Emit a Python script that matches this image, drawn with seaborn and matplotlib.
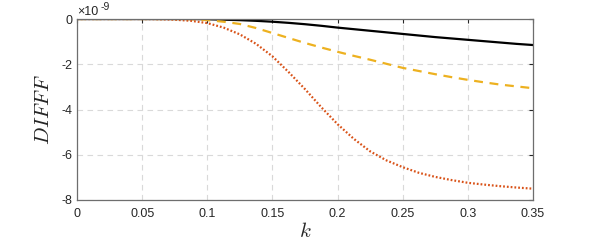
import matplotlib
matplotlib.use("Agg")
import matplotlib.pyplot as plt
import seaborn as sns
import pandas as pd

# k grid and DIFFF values (in units of 1e-9)
k = [0, 0.0125, 0.025, 0.0375, 0.05, 0.0625, 0.075, 0.0875, 0.1, 0.1125,
     0.125, 0.1375, 0.15, 0.1625, 0.175, 0.1875, 0.2, 0.2125, 0.225, 0.2375,
     0.25, 0.2625, 0.275, 0.2875, 0.3, 0.3125, 0.325, 0.3375, 0.35]

diff_black = [0, 0, 0, 0, 0, 0, 0, 0, -0.01, -0.03,
              -0.05, -0.08, -0.12, -0.17, -0.23, -0.3, -0.38, -0.45, -0.52, -0.59,
              -0.66, -0.73, -0.8, -0.86, -0.92, -0.98, -1.04, -1.1, -1.15]

diff_orange = [0, 0, 0, 0, 0, 0, 0, -0.01, -0.05, -0.12,
               -0.22, -0.4, -0.62, -0.84, -1.06, -1.26, -1.45, -1.63, -1.8, -1.98,
               -2.16, -2.3, -2.44, -2.57, -2.69, -2.8, -2.9, -2.98, -3.06]

diff_red = [0, 0, 0, 0, 0, -0.01, -0.03, -0.08, -0.18, -0.38,
            -0.68, -1.1, -1.65, -2.35, -3.1, -3.9, -4.65, -5.3, -5.85, -6.25,
            -6.55, -6.8, -6.98, -7.12, -7.24, -7.32, -7.39, -7.45, -7.5]

x_ticks = [0, 0.05, 0.1, 0.15, 0.2, 0.25, 0.3, 0.35]
x_tick_labels = ["0", "0.05", "0.1", "0.15", "0.2", "0.25", "0.3", "0.35"]
y_ticks = [0, -2, -4, -6, -8]
y_tick_labels = ["0", "-2", "-4", "-6", "-8"]

sns.set_style("white")
plt.rcParams["font.family"] = ["Liberation Sans", "DejaVu Sans"]
plt.rcParams["mathtext.fontset"] = "cm"
plt.rcParams["axes.unicode_minus"] = False

df = pd.DataFrame({"k": k, "black": diff_black, "orange": diff_orange, "red": diff_red})

fig = plt.figure(figsize=(5.89, 2.45), dpi=100)
ax = fig.add_axes([0.1307, 0.1837, 0.7743, 0.7387])

sns.lineplot(data=df, x="k", y="black", ax=ax, color="black", linewidth=1.6)
sns.lineplot(data=df, x="k", y="orange", ax=ax, color="#EDB120", linewidth=1.6,
             linestyle=(0, (4, 3)))
sns.lineplot(data=df, x="k", y="red", ax=ax, color="#D95319", linewidth=1.6,
             linestyle=(0, (0.8, 0.9)))

ax.set_xlim(0, 0.35)
ax.set_ylim(-8, 0)
ax.set_xticks(x_ticks)
ax.set_xticklabels(x_tick_labels)
ax.set_yticks(y_ticks)
ax.set_yticklabels(y_tick_labels)
ax.tick_params(axis="both", direction="in", length=3, labelsize=9,
               colors="#262626", top=True, right=True, labelcolor="#262626")
ax.tick_params(axis="x", pad=6)
ax.grid(True, linestyle=(0, (5, 4)), color="#d9d9d9", linewidth=0.8)
for side in ["left", "bottom", "top", "right"]:
    ax.spines[side].set_color("#6e6e6e")
    ax.spines[side].set_linewidth(0.9)

ax.set_xlabel("$k$", fontsize=15, labelpad=1)
ax.set_ylabel("$DIFFF$", fontsize=15, labelpad=6)
# offset factor in the MATLAB style, with a slightly larger exponent
ax.text(0.0, 1.005, "\u00d710", transform=ax.transAxes, fontsize=9,
        color="#262626", ha="left", va="bottom")
ax.text(0.052, 1.04, "-9", transform=ax.transAxes, fontsize=7.5,
        color="#262626", ha="left", va="bottom")

fig.savefig("out.png", dpi=100)
